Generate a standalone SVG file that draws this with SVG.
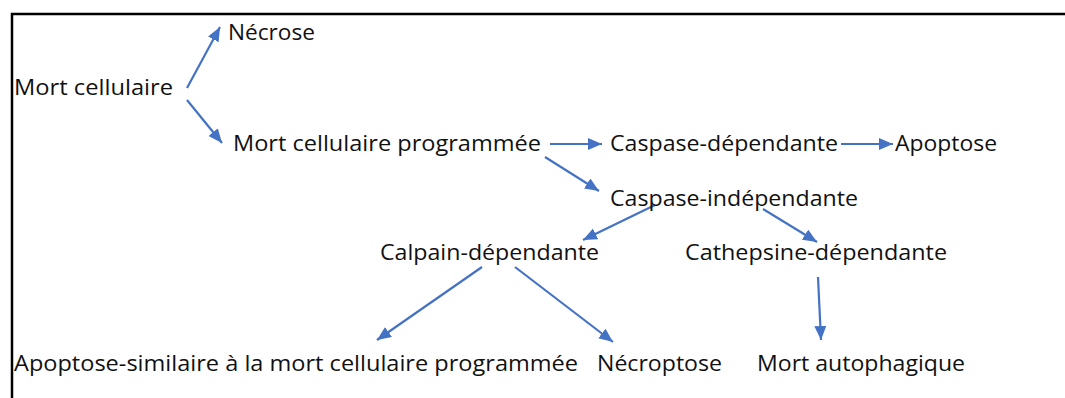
<svg xmlns="http://www.w3.org/2000/svg" width="1065" height="398" viewBox="0 0 1065 398">
<style>
.t{font-family:"Open Sans","Noto Sans","Liberation Sans",sans-serif;font-size:21.5px;fill:#111;}
.c{stroke:#4472C4;stroke-width:2.2;fill:none;}
.frame{stroke:#000;stroke-width:2.5;fill:none;}
</style>
<defs>
<marker id="ah" markerUnits="userSpaceOnUse" markerWidth="15" markerHeight="13" refX="14" refY="6" orient="auto">
<path d="M0,0 L14,6 L0,12 z" fill="#4472C4"/>
</marker>
</defs>
<rect width="1065" height="398" fill="#fff"/>
<path class="frame" d="M12,398 L12,14 L1065,14"/>
<g id="connectors">
<line class="c" x1="187" y1="88" x2="220" y2="27" marker-end="url(#ah)"/>
<line class="c" x1="187" y1="100" x2="222" y2="143" marker-end="url(#ah)"/>
<line class="c" x1="550" y1="144" x2="602" y2="144" marker-end="url(#ah)"/>
<line class="c" x1="545" y1="157" x2="599" y2="191" marker-end="url(#ah)"/>
<line class="c" x1="841" y1="144" x2="893" y2="144" marker-end="url(#ah)"/>
<line class="c" x1="655" y1="205" x2="583" y2="240" marker-end="url(#ah)"/>
<line class="c" x1="763" y1="209" x2="817" y2="242" marker-end="url(#ah)"/>
<line class="c" x1="482" y1="267" x2="377" y2="340" marker-end="url(#ah)"/>
<line class="c" x1="515" y1="267" x2="613" y2="342" marker-end="url(#ah)"/>
<line class="c" x1="818" y1="277" x2="821" y2="340" marker-end="url(#ah)"/>
</g>
<g id="n-necrose"><text class="t" x="228" y="40" textLength="87" lengthAdjust="spacingAndGlyphs">Nécrose</text></g>
<g id="n-mort"><text class="t" x="14" y="95" textLength="159" lengthAdjust="spacingAndGlyphs">Mort cellulaire</text></g>
<g id="n-mcp"><text class="t" x="233" y="151" textLength="308" lengthAdjust="spacingAndGlyphs">Mort cellulaire programmée</text></g>
<g id="n-casp-dep"><text class="t" x="610" y="151" textLength="228" lengthAdjust="spacingAndGlyphs">Caspase-dépendante</text></g>
<g id="n-apoptose"><text class="t" x="895" y="151" textLength="102" lengthAdjust="spacingAndGlyphs">Apoptose</text></g>
<g id="n-casp-indep"><text class="t" x="610" y="206" textLength="248" lengthAdjust="spacingAndGlyphs">Caspase-indépendante</text></g>
<g id="n-calpain"><text class="t" x="380" y="260" textLength="219" lengthAdjust="spacingAndGlyphs">Calpain-dépendante</text></g>
<g id="n-cathepsine"><text class="t" x="685" y="260" textLength="262" lengthAdjust="spacingAndGlyphs">Cathepsine-dépendante</text></g>
<g id="n-apo-sim"><text class="t" x="14" y="371" textLength="564" lengthAdjust="spacingAndGlyphs">Apoptose-similaire à la mort cellulaire programmée</text></g>
<g id="n-necroptose"><text class="t" x="597" y="371" textLength="125" lengthAdjust="spacingAndGlyphs">Nécroptose</text></g>
<g id="n-autophagique"><text class="t" x="757" y="371" textLength="208" lengthAdjust="spacingAndGlyphs">Mort autophagique</text></g>
</svg>
